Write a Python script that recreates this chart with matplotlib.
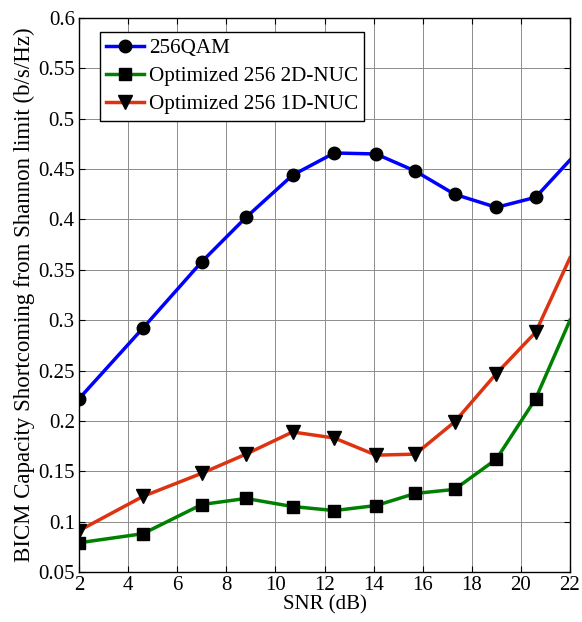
import matplotlib
matplotlib.use("Agg")
import matplotlib.pyplot as plt

snr = [2, 4.6, 7, 8.8, 10.7, 12.4, 14.1, 15.7, 17.3, 19, 20.6, 22]
qam256 = [0.222, 0.292, 0.358, 0.402, 0.444, 0.466, 0.465, 0.448, 0.425, 0.412, 0.422, 0.459]
nuc2d = [0.079, 0.088, 0.117, 0.123, 0.115, 0.111, 0.116, 0.128, 0.132, 0.162, 0.222, 0.300]
nuc1d = [0.091, 0.125, 0.148, 0.167, 0.189, 0.183, 0.166, 0.167, 0.199, 0.247, 0.288, 0.362]
labels = ["256QAM", "Optimized 256 2D-NUC", "Optimized 256 1D-NUC"]
xticks = list(range(2, 23, 2))
yticks = [0.05, 0.1, 0.15, 0.2, 0.25, 0.3, 0.35, 0.4, 0.45, 0.5, 0.55, 0.6]

plt.rcParams['font.family'] = ['Liberation Serif', 'DejaVu Serif']

fig = plt.figure(figsize=(5.82, 6.22), dpi=100)
ax = fig.add_axes([79/582, 50/622, 491/582, 554/622])

n = len(snr) - 1
ax.plot(snr, qam256, color='#0000FF', lw=2.5, marker='o', ms=9, mfc='black', mec='black',
        markevery=list(range(n)), label=labels[0], zorder=3)
ax.plot(snr, nuc2d, color='#008000', lw=2.5, marker='s', ms=8.5, mfc='black', mec='black',
        markevery=list(range(n)), label=labels[1], zorder=3)
ax.plot(snr, nuc1d, color='#DD3311', lw=2.5, marker='v', ms=10, mfc='black', mec='black',
        markevery=list(range(n)), label=labels[2], zorder=3)

ax.set_xlim(2, 22)
ax.set_ylim(0.05, 0.6)
ax.set_xticks(xticks)
ax.set_xticklabels([str(t) for t in xticks])
ax.set_yticks(yticks)
ax.set_yticklabels([('%g' % t) for t in yticks])
ax.tick_params(direction='in', top=True, right=True, labelsize=15, length=4, width=0.8, pad=3)
ax.grid(True, color='#8c8c8c', lw=0.7, ls='-')
for s in ax.spines.values():
    s.set_linewidth(1.0)
ax.set_xlabel('SNR (dB)', fontsize=15, labelpad=0)
ax.set_ylabel('BICM Capacity Shortcoming from Shannon limit (b/s/Hz)', fontsize=16.5, labelpad=2)

leg = ax.legend(loc='upper left', bbox_to_anchor=(0.043, 0.975), borderaxespad=0,
                fontsize=15.2, fancybox=False, framealpha=1, edgecolor='black',
                handlelength=1.8, handletextpad=0.2, labelspacing=0.4, borderpad=0.3)
leg.get_frame().set_linewidth(1.0)

fig.savefig('out.png', dpi=100)
